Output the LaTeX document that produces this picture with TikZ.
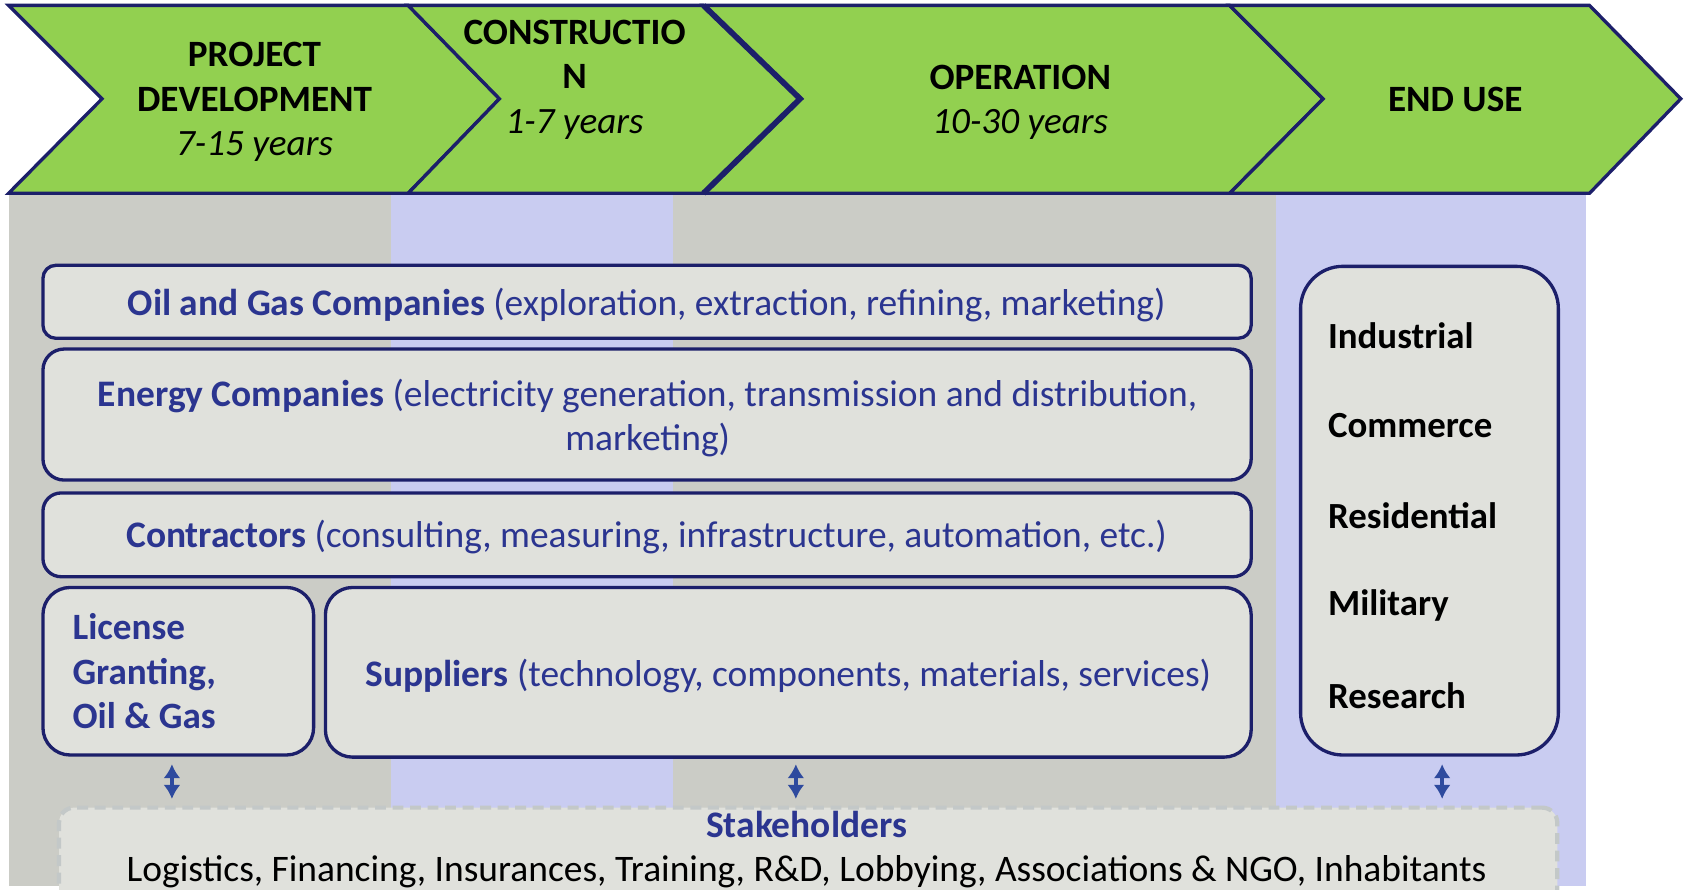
\documentclass[tikz,border=0pt]{standalone}
\usepackage{fontspec}
\setmainfont{Carlito}
\usetikzlibrary{fit,arrows.meta}
\definecolor{phasegreen}{HTML}{92D050}
\definecolor{navy}{HTML}{1C1F6A}
\definecolor{colgray}{HTML}{CBCCC6}
\definecolor{collav}{HTML}{C9CCF1}
\definecolor{boxfill}{HTML}{E0E1DC}
\definecolor{actor}{HTML}{2B3590}
\definecolor{arrowblue}{HTML}{2E4A9E}
\definecolor{dashgray}{HTML}{C3C8C8}
\tikzset{
  phase/.style={draw=navy, line width=1.1pt, fill=phasegreen, line join=miter},
  phasetext/.style={font=\fontsize{12.3}{14.7}\selectfont\bfseries, align=center, text=black},
  actorbox/.style={draw=navy, line width=1.1pt, fill=boxfill, rounded corners=#1, inner sep=0pt},
  actorbox/.default=4.3pt,
  actortext/.style={text=actor, align=center},
  usetext/.style={anchor=west, inner sep=0pt, font=\fontsize{12.2}{14.5}\selectfont\bfseries},
  stakebox/.style={draw=dashgray, line width=1.4pt, dash pattern=on 3.6pt off 2.2pt, fill=boxfill, rounded corners=5pt, inner sep=0pt},
  twoway/.style={arrowblue, line width=1.4pt, {Latex[length=4.6pt,width=5.6pt]}-{Latex[length=4.6pt,width=5.6pt]}}
}

\begin{document}
\begin{tikzpicture}[x=0.0125cm, y=-0.0125cm, every node/.style={font=\fontsize{12.4}{14.5}\selectfont}]
\useasboundingbox (0,0) rectangle (1568,828.7);

% background columns
\fill[colgray] (8,180) rectangle (364,825);
\fill[collav] (364,180) rectangle (627,825);
\fill[colgray] (627,180) rectangle (1188,825);
\fill[collav] (1188,180) rectangle (1477,825);

% phases
\draw[phase] (8,5) -- (380,5) -- (465,92) -- (380,180) -- (8,180) -- (95,92) -- cycle;
\draw[phase] (380,5) -- (655,5) -- (745,92) -- (655,180) -- (380,180) -- (465,92) -- cycle;
\draw[phase] (655,5) -- (1145,5) -- (1232,92) -- (1145,180) -- (655,180) -- (745,92) -- cycle;
\draw[navy, line width=1.9pt] (655,5) -- (745,92) -- (655,180);
\draw[phase] (1145,5) -- (1480,5) -- (1565,92) -- (1480,180) -- (1145,180) -- (1232,92) -- cycle;

\node[phasetext] (dev) at (237,95) {PROJECT\\DEVELOPMENT\\\textit{\mdseries 7-15 years}};
\node[phasetext] (con) at (535,74) {CONSTRUCTIO\\N\\\textit{\mdseries 1-7 years}};
\node[phasetext] (op) at (950,95) {OPERATION\\\textit{\mdseries 10-30 years}};
\node[phasetext] (use) at (1355,93) {END USE};

% actors
\node[actorbox, fit={(40,247) (1165,315)}] (oil) {};
\node[actortext] (oiltext) at (602,284)
  {\textbf{Oil and Gas Companies} (exploration, extraction, refining, marketing)};
\node[actorbox=7pt, fit={(40,325) (1165,447)}] (energy) {};
\node[actortext] (energytext) at (603,389)
  {\textbf{Energy Companies} (electricity generation, transmission and distribution,\\marketing)};
\node[actorbox=6pt, fit={(40,459) (1165,537)}] (contr) {};
\node[actortext] (contrtext) at (602,500)
  {\textbf{Contractors} (consulting, measuring, infrastructure, automation, etc.)};
\node[actorbox=9pt, fit={(40,547) (292,703)}] (lic) {};
\node[actortext, align=left, anchor=west, inner sep=0pt, font=\fontsize{12.3}{14.7}\selectfont\bfseries] (lictext) at (67,625)
  {License\\Granting,\\Oil \& Gas};
\node[actorbox=9pt, fit={(303,547) (1165,705)}] (sup) {};
\node[actortext] (suptext) at (734,629)
  {\textbf{Suppliers} (technology, components, materials, services)};

% end use
\node[actorbox=14pt, fit={(1211,248) (1451,703)}] (eu) {};
\foreach \item [count=\i] in {Industrial,Commerce,Residential,Military,Research}
  \node[usetext] (eu\i) at (1236,229+83.7*\i) {\item};

% stakeholders
\node[stakebox, fit={(55,752) (1450,850)}] (stake) {};
\node[align=center, font=\fontsize{12.4}{14.6}\selectfont] (staketext) at (751,791)
  {\textcolor{actor}{\textbf{Stakeholders}}\\Logistics, Financing, Insurances, Training, R\&D, Lobbying, Associations \& NGO, Inhabitants};

\draw[twoway, shorten <=2.5pt, shorten >=2.2pt] ([xshift=-2.1pt]lic.south) -- ([xshift=-2.1pt]lic.south |- stake.north);
\draw[twoway, shorten <=1.8pt, shorten >=2.2pt] ([xshift=2.5pt]sup.south) -- ([xshift=2.5pt]sup.south |- stake.north);
\draw[twoway, shorten <=2.5pt, shorten >=2.2pt] ([xshift=4.2pt]eu.south) -- ([xshift=4.2pt]eu.south |- stake.north);
\end{tikzpicture}
\end{document}
